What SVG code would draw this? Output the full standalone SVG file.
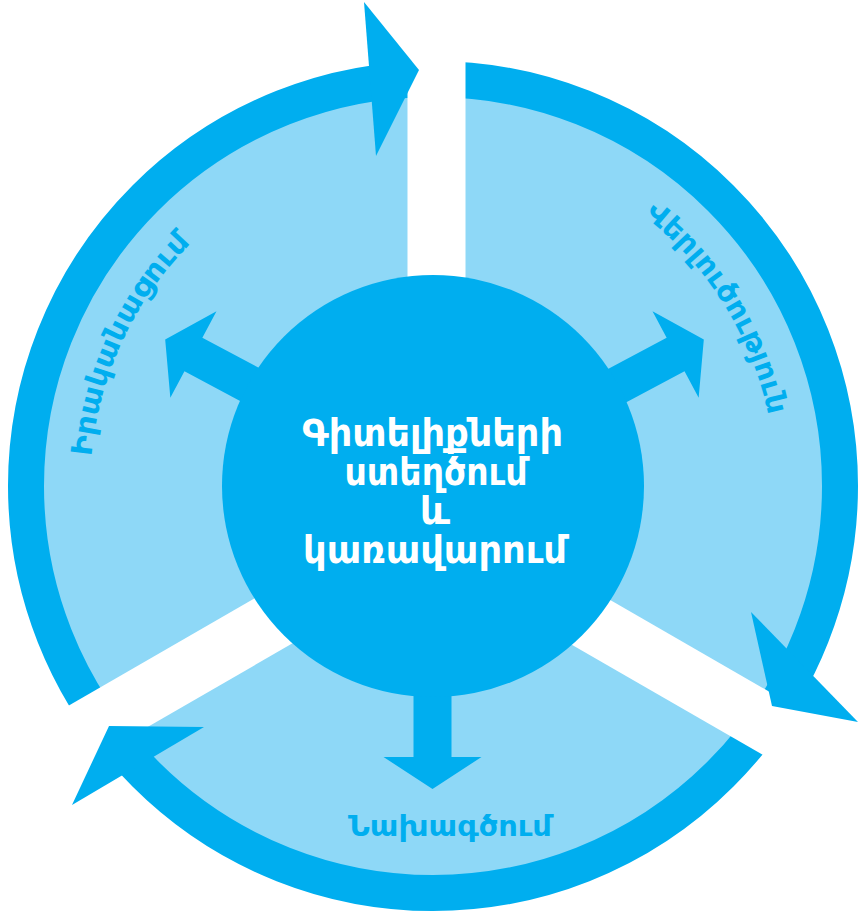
<svg xmlns="http://www.w3.org/2000/svg" width="861" height="912" viewBox="0 0 861 912">
  <style>
    .dark { fill: #00AEEF; }
    .light { fill: #8ED8F7; }
    .ring { fill: none; stroke: #00AEEF; stroke-width: 36; }
    .gap { stroke: #FFFFFF; stroke-width: 58; stroke-linecap: butt; }
    .label { font-family: "DejaVu Sans", "Noto Sans", sans-serif; font-weight: bold; fill: #00AEEF; font-size: 29px; }
    .title { font-family: "DejaVu Sans", "Noto Sans", sans-serif; font-weight: bold; fill: #FFFFFF; font-size: 37px; text-anchor: middle; }
  </style>
  <defs>
    <polygon id="spoke" points="150,-19 275,-19 275,-49 307,0 275,49 275,19 150,19"/>
    <path id="arcLeft" d="M101.7,574.8 A344,344 0 0 1 288,175.1"/>
    <path id="arcRight" d="M539,159.8 A344,344 0 0 1 772.7,533.7"/>
  </defs>

  <g id="background">
    <circle class="light" cx="433" cy="486" r="390"/>
    <circle class="ring" cx="433" cy="486" r="407"/>
  </g>

  <g id="gaps">
    <line class="gap" x1="436.5" y1="530" x2="436.5" y2="-10"/>
    <line class="gap" x1="431" y1="530" x2="951" y2="830"/>
    <line class="gap" x1="431" y1="530" x2="-89" y2="830"/>
  </g>

  <g id="connectors">
    <polygon class="dark" points="364,2 419,70 376,156"/>
    <polygon class="dark" points="751,612 858,722 772,706"/>
    <polygon class="dark" points="109,726 204,727 72,805"/>
    <use href="#spoke" class="dark" transform="translate(433,484) rotate(-28.1)"/>
    <use href="#spoke" class="dark" transform="translate(436,484) rotate(-151.9)"/>
    <use href="#spoke" class="dark" transform="translate(432.5,482) rotate(90)"/>
  </g>

  <g id="node-center">
    <circle class="dark" cx="433" cy="486" r="211"/>
    <text class="title" x="432.5" y="446" textLength="261" lengthAdjust="spacingAndGlyphs">Գիտելիքների</text>
    <text class="title" x="436" y="485" textLength="183" lengthAdjust="spacingAndGlyphs">ստեղծում</text>
    <text class="title" x="435" y="524">և</text>
    <text class="title" x="435" y="563" textLength="264" lengthAdjust="spacingAndGlyphs">կառավարում</text>
  </g>

  <g id="node-implementation">
    <text class="label"><textPath href="#arcLeft" startOffset="50%" text-anchor="middle" textLength="240" lengthAdjust="spacingAndGlyphs">Իրականացում</textPath></text>
  </g>

  <g id="node-analysis">
    <text class="label"><textPath href="#arcRight" startOffset="50%" text-anchor="middle" textLength="240" lengthAdjust="spacingAndGlyphs">Վերլուծություն</textPath></text>
  </g>

  <g id="node-design">
    <text class="label" x="450" y="836" text-anchor="middle" textLength="204" lengthAdjust="spacingAndGlyphs">Նախագծում</text>
  </g>
</svg>
